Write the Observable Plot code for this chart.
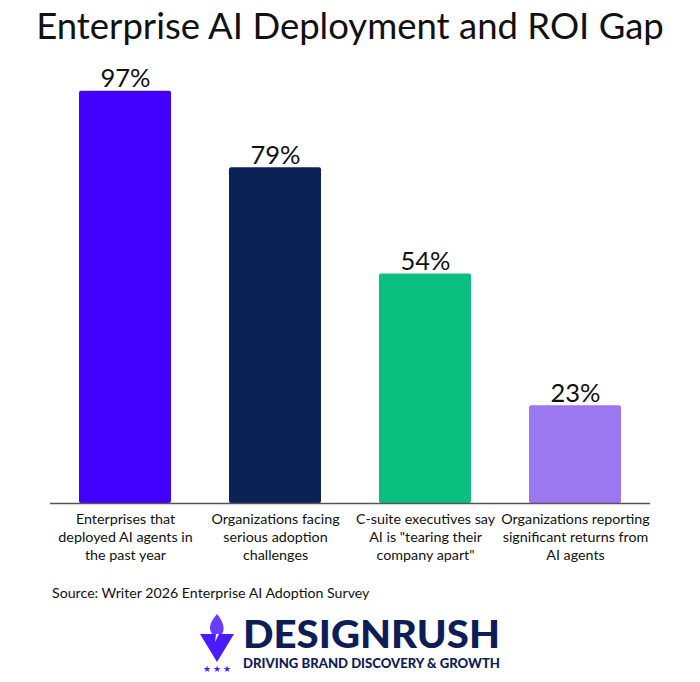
<!DOCTYPE html>
<html>
<head>
<meta charset="utf-8">
<script src="https://cdn.jsdelivr.net/npm/d3@7"></script>
<script src="https://cdn.jsdelivr.net/npm/@observablehq/plot@0.6"></script>
<style>
  body { margin: 0; background: #fff; font-family: Lato, "Open Sans", sans-serif; }
  #wrap { width: 700px; height: 682px; position: relative; overflow: hidden; }
  #title { height: 52px; text-align: center; font-size: 36.5px; color: #111; line-height: 50px; white-space: nowrap; }
  #source { position: absolute; left: 52px; top: 584px; font-size: 14.2px; color: #111; }
  #logo { position: absolute; left: 196px; top: 606px; width: 320px; height: 72px; }
</style>
</head>
<body>
<div id="wrap">
  <div id="title">Enterprise AI Deployment and ROI Gap</div>
  <div id="chart"></div>
  <div id="source">Source: Writer 2026 Enterprise AI Adoption Survey</div>
  <svg id="logo" viewBox="0 0 320 72">
    <path d="M4 28 L20 28 L19 36 L23 28 L38 28 L21 56 Z" fill="#4a1bff"/>
    <path d="M21 8 C14 16 12 22 16 28 L26 28 C30 22 26 14 21 8 Z" fill="#6b3dff"/>
    <text x="11" y="66" font-size="9" fill="#4a1bff" text-anchor="middle">★</text>
    <text x="21" y="66" font-size="9" fill="#4a1bff" text-anchor="middle">★</text>
    <text x="31" y="66" font-size="9" fill="#4a1bff" text-anchor="middle">★</text>
    <text x="47" y="42" font-family="Lato" font-weight="900" font-size="37" fill="#0f1d57" textLength="257" lengthAdjust="spacingAndGlyphs">DESIGNRUSH</text>
    <text x="47" y="62" font-family="Lato" font-weight="900" font-size="13.5" fill="#0f1d57" textLength="257" lengthAdjust="spacingAndGlyphs">DRIVING BRAND DISCOVERY &amp; GROWTH</text>
  </svg>
</div>
<script>
const categories = [
  "Enterprises that\ndeployed AI agents in\nthe past year",
  "Organizations facing\nserious adoption\nchallenges",
  "C-suite executives say\nAI is \"tearing their\ncompany apart\"",
  "Organizations reporting\nsignificant returns from\nAI agents"
];
const values = [97, 79, 54, 23];
const colors = ["#4200ff", "#0b2257", "#0bbf80", "#9b78f0"];

const data = categories.map((c, i) => ({category: c, value: values[i], color: colors[i]}));

const chart = Plot.plot({
  width: 700,
  height: 518,
  marginTop: 26,
  marginBottom: 67,
  marginLeft: 50,
  marginRight: 50,
  style: {fontFamily: "Lato, sans-serif", background: "#fff"},
  x: {domain: categories, paddingInner: 0.387, paddingOuter: 0.1935, axis: null},
  y: {domain: [0, 100], axis: null},
  marks: [
    Plot.barY(data, {x: "category", y: "value", fill: "color", rx: 2}),
    Plot.ruleY([0], {stroke: "#555", strokeWidth: 1.5}),
    Plot.text(data, {x: "category", y: "value", text: d => d.value + "%", lineAnchor: "bottom", dy: -4, fontSize: 25.5, fill: "#111"}),
    Plot.text(data, {x: "category", y: 0, text: "category", lineAnchor: "top", dy: 8, fontSize: 14.3, lineHeight: 1.26, fill: "#111"})
  ]
});
document.getElementById("chart").appendChild(chart);
</script>
</body>
</html>
